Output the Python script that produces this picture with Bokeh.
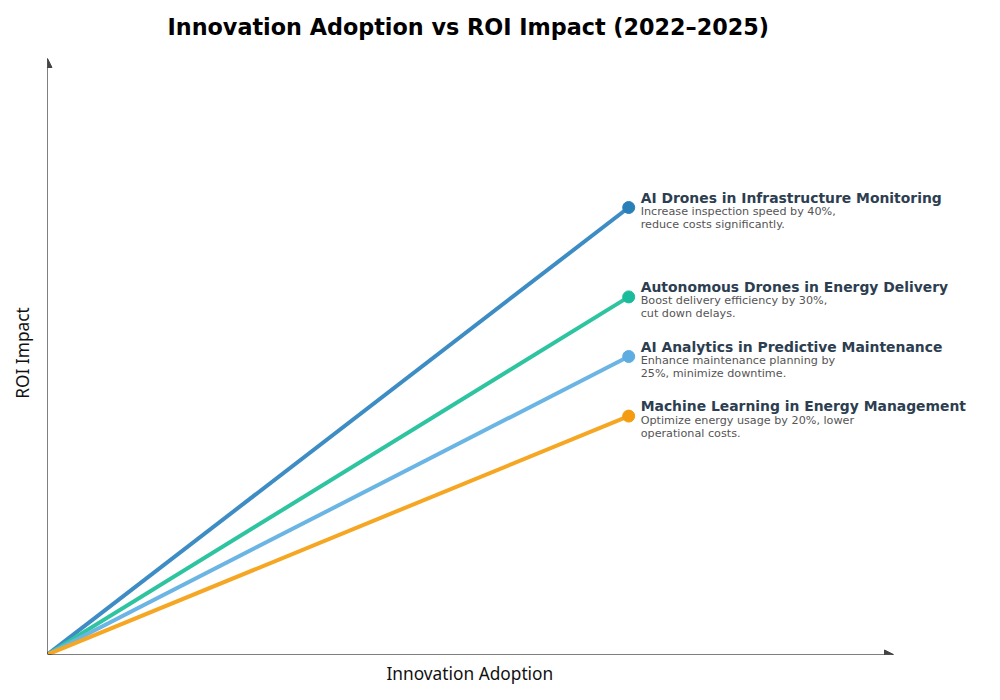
from bokeh.plotting import figure
from bokeh.models import Range1d, Arrow, NormalHead, LabelSet, ColumnDataSource, FixedTicker, Title
from bokeh.core.properties import value
from bokeh.embed import file_html
from bokeh.resources import INLINE

# ---- data ----
innovations = [
    "AI Drones in Infrastructure Monitoring",
    "Autonomous Drones in Energy Delivery",
    "AI Analytics in Predictive Maintenance",
    "Machine Learning in Energy Management",
]
desc_line1 = [
    "Increase inspection speed by 40%,",
    "Boost delivery efficiency by 30%,",
    "Enhance maintenance planning by",
    "Optimize energy usage by 20%, lower",
]
desc_line2 = [
    "reduce costs significantly.",
    "cut down delays.",
    "25%, minimize downtime.",
    "operational costs.",
]
adoption = [0.687, 0.687, 0.687, 0.687]
roi = [0.75, 0.60, 0.50, 0.40]
colors = ["#2980b9", "#1abc9c", "#5dade2", "#f39c12"]
line_colors = ["#3d8dc4", "#2ec4a0", "#6bb5e4", "#f5a623"]
x_label = "Innovation Adoption"
y_label = "ROI Impact"

FW, FH = 938, 603
p = figure(frame_width=FW, frame_height=FH, output_backend="svg", toolbar_location=None,
           x_range=Range1d(0, FW / 846), y_range=Range1d(0, FH / 596),
           min_border_left=47, min_border_right=5, min_border_top=50, min_border_bottom=42)
p.grid.visible = False
p.outline_line_color = None
p.background_fill_color = "white"
p.border_fill_color = "white"

p.title.text = "Innovation Adoption vs ROI Impact (2022–2025)"
p.title.align = "left"
p.title.offset = 120
p.title.standoff = 23
p.title.text_font = "DejaVu Sans"
p.title.text_font_size = "22.3px"
p.title.text_font_style = "bold"
p.title.text_color = "black"

for ax in (p.xaxis, p.yaxis):
    ax.ticker = FixedTicker(ticks=[])
    ax.axis_line_color = None
    ax.major_tick_line_color = None
    ax.minor_tick_line_color = None
    ax.major_tick_out = 0
    ax.major_tick_in = 0
    ax.axis_label_text_font = "Noto Sans"
    ax.axis_label_text_font_size = "17.3px"
    ax.axis_label_text_font_style = "normal"
    ax.axis_label_text_color = "#111111"
p.yaxis.axis_label = y_label
p.yaxis.axis_label_standoff = 14
p.yaxis.major_label_standoff = 0
p.xaxis.major_label_standoff = 0

# x-axis label, centred under the arrow (not under the wider frame)
p.add_layout(Title(text=x_label, align="left", offset=339, standoff=11,
                   text_font="Noto Sans", text_font_size="17.3px", text_font_style="normal",
                   text_color="#111111"), "below")

# axis arrows
for xe, ye in ((1.0, 0.0), (0.0, 1.0)):
    p.add_layout(Arrow(x_start=0, y_start=0, x_end=xe, y_end=ye,
                       line_color="black", line_width=1,
                       end=NormalHead(size=9, fill_color="#444444", line_color="#444444", line_width=1)))

# lines
for i in range(len(innovations)):
    p.line([0, adoption[i]], [0, roi[i]], line_color=line_colors[i], line_width=4)

src = ColumnDataSource(dict(x=adoption, y=roi, name=innovations, d1=desc_line1, d2=desc_line2, c=colors))
p.scatter("x", "y", source=src, size=12, fill_color="c", line_color="c")

p.add_layout(LabelSet(x="x", y="y", text="name", source=src, x_offset=12, y_offset=10,
                      text_font=value("DejaVu Sans"), text_font_style="bold", text_font_size="13.9px",
                      text_color="#2c3e50", text_baseline="middle"))
p.add_layout(LabelSet(x="x", y="y", text="d1", source=src, x_offset=12, y_offset=-4,
                      text_font=value("DejaVu Sans"), text_font_size="11.2px",
                      text_color="#555555", text_baseline="middle"))
p.add_layout(LabelSet(x="x", y="y", text="d2", source=src, x_offset=12, y_offset=-17,
                      text_font=value("DejaVu Sans"), text_font_size="11.2px",
                      text_color="#555555", text_baseline="middle"))

open("out.html", "w").write(file_html(p, INLINE))
